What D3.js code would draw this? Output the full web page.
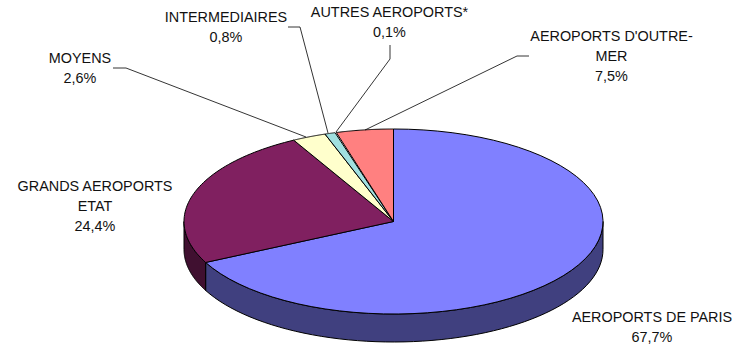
<!DOCTYPE html>
<html><head><meta charset="utf-8">
<script src="https://cdn.jsdelivr.net/npm/d3@7/dist/d3.min.js"></script>
<style>html,body{margin:0;padding:0;background:#fff}svg{display:block}text{font-family:"Liberation Sans",Arial,sans-serif;font-size:14.4px;fill:#111}</style>
</head><body><svg id="c" width="749" height="350"></svg>
<script>
const categories=["AEROPORTS DE PARIS","GRANDS AEROPORTS ETAT","MOYENS","INTERMEDIAIRES","AUTRES AEROPORTS*","AEROPORTS D'OUTRE-MER"];
const drawnShares=[67.7,24.4,2.6,0.8,0.1,4.4];
const valueLabels=["67,7%","24,4%","2,6%","0,8%","0,1%","7,5%"];
const colors=["#8080ff","#802060","#ffffcc","#a0e0e0","#a0e0e0","#ff8080"];
const sideColors=["#40407f","#401030","#7f7f66","#507070","#507070","#7f4040"];
const labelLines=[["AEROPORTS DE PARIS"],["GRANDS AEROPORTS","ETAT"],["MOYENS"],["INTERMEDIAIRES"],["AUTRES AEROPORTS*"],["AEROPORTS D'OUTRE-","MER"]];
const labelCentres=[[652,322],[95,191],[80,63],[226,22],[389.5,17],[611.5,41]];
const leaders=[null,null,[[113,68],[126,68],[306,137]],[[288,27],[300,27],[328,133]],[[390,45],[390,59],[336,132]],[[529,56],[517,56],[365,130]]];

const cx=393.5,cy=221.5,rx=209.5,ry=92.5,depth=28;
const svg=d3.select("#c");
const pie=d3.pie().sort(null)(drawnShares);
const px=d3.scaleLinear().domain([-1,1]).range([cx-rx,cx+rx]);
const py=d3.scaleLinear().domain([-1,1]).range([cy-ry,cy+ry]);
const pt=(a,dy=0)=>[px(Math.sin(a)),py(-Math.cos(a))+dy];
const line=d3.line();
const arcPts=(a0,a1,dy=0)=>d3.range(0,61).map(i=>pt(a0+(a1-a0)*i/60,dy));

// side wall
pie.forEach((d,i)=>{
  const a0=Math.max(d.startAngle,Math.PI/2),a1=Math.min(d.endAngle,3*Math.PI/2);
  if(a1<=a0)return;
  const pts=arcPts(a0,a1).concat(arcPts(a1,a0,depth));
  svg.append("path").attr("d",line(pts)+"Z").attr("fill",sideColors[i]).attr("stroke","#000").attr("stroke-width",1).attr("stroke-linejoin","round");
});
// top
pie.forEach((d,i)=>{
  if(d.value<0.5)return;
  const pts=[[cx,cy]].concat(arcPts(d.startAngle,d.endAngle));
  svg.append("path").attr("d",line(pts)+"Z").attr("fill",colors[i]).attr("stroke","#000").attr("stroke-width",1).attr("stroke-linejoin","round");
});
// leaders
leaders.forEach(l=>{if(l)svg.append("path").attr("d",line(l)).attr("fill","none").attr("stroke","#000").attr("stroke-width",.8);});
// labels
categories.forEach((c,i)=>{
  const [x,y]=labelCentres[i];
  const lines=labelLines[i].concat(valueLabels[i]);
  const t=svg.append("text").attr("text-anchor","middle");
  lines.forEach((s,j)=>t.append("tspan").attr("x",x).attr("y",y+j*20).text(s));
});
</script></body></html>
